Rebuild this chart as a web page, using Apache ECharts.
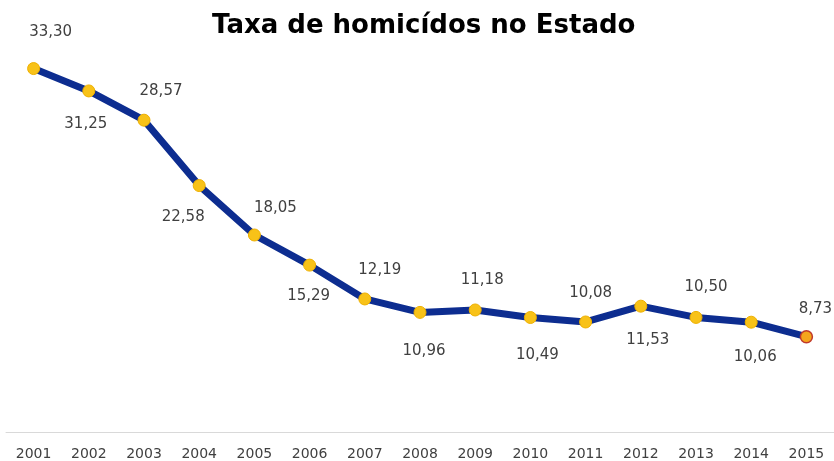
<!DOCTYPE html>
<html>
<head>
<meta charset="utf-8">
<script src="https://cdn.jsdelivr.net/npm/echarts@6/dist/echarts.min.js"></script>
<style>html,body{margin:0;padding:0;background:#fff}#c{width:834px;height:461px}</style>
</head>
<body>
<div id="c"></div>
<script>
const titleText = 'Taxa de homicídos no Estado';
const years = ['2001','2002','2003','2004','2005','2006','2007','2008','2009','2010','2011','2012','2013','2014','2015'];
const rates = [33.30, 31.25, 28.57, 22.58, 18.05, 15.29, 12.19, 10.96, 11.18, 10.49, 10.08, 11.53, 10.50, 10.06, 8.73];

// label layout (pixel offsets from each point), kept separate from data
const labelOffsets = [[17,-36],[-3,33],[17,-29],[-16,32],[21,-27],[-1,31],[15,-29],[4,39],[7,-30],[7,38],[5,-29],[7,34],[10,-30],[4,35],[9,-28]];

const seriesData = rates.map((v, i) => {
  const item = {
    value: v,
    label: { offset: labelOffsets[i] }
  };
  if (i === rates.length - 1) {
    item.itemStyle = { color: '#f5a51c', borderColor: '#c0392b', borderWidth: 1.5 };
  }
  return item;
});

const chart = echarts.init(document.getElementById('c'), null, { renderer: 'canvas' });
chart.setOption({
  animation: false,
  backgroundColor: '#ffffff',
  title: {
    text: titleText,
    left: 207,
    top: 8,
    textStyle: { fontFamily: 'DejaVu Sans', fontWeight: 'bold', fontSize: 26, color: '#000' }
  },
  grid: { left: 6, right: -2, top: 50, bottom: 26, containLabel: false },
  xAxis: {
    type: 'category',
    data: years,
    boundaryGap: true,
    axisLine: { show: true, lineStyle: { color: '#d9d9d9', width: 1 } },
    axisTick: { show: false },
    axisLabel: { fontFamily: 'DejaVu Sans', fontSize: 14, color: '#404040', margin: 15 },
    splitLine: { show: false }
  },
  yAxis: {
    type: 'value',
    min: 0,
    max: 35,
    show: false,
    splitLine: { show: false }
  },
  series: [{
    type: 'line',
    data: seriesData,
    symbol: 'circle',
    symbolSize: 12,
    lineStyle: { color: '#0d2d90', width: 7, join: 'round', cap: 'round' },
    itemStyle: { color: '#f8c218', borderColor: '#eeb000', borderWidth: 1 },
    label: {
      show: true,
      position: 'inside',
      fontFamily: 'DejaVu Sans',
      fontSize: 15,
      color: '#404040',
      formatter: p => p.value.toFixed(2).replace('.', ',')
    },
    z: 3
  }]
});
</script>
</body>
</html>
